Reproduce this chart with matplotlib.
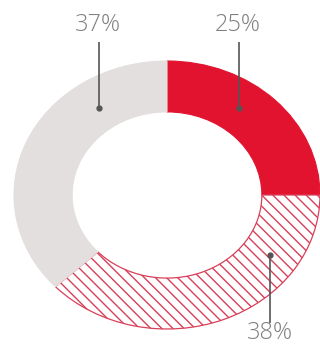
import matplotlib
matplotlib.use("Agg")
import matplotlib.pyplot as plt

labels = ["25%", "38%", "37%"]
values = [25, 38, 37]
colors = ["#E2132F", "white", "#E4DFDF"]
hatches = [None, "\\\\\\", None]
edgecolors = ["#E2132F", "#D8405A", "#E4DFDF"]

# annotation anchors (dot, line end, text) in axes data units
dots = [(0.471, 0.649), (0.673, -0.448), (-0.444, 0.649)]
ends = [(0.471, 1.142), (0.673, -0.955), (-0.444, 1.142)]
texts = [(0.464, 1.272), (0.673, -1.03), (-0.451, 1.272)]

fig = plt.figure(figsize=(3.20, 3.49), dpi=100)
ax = fig.add_axes([14/320, 20/349, 306/320, 268/349])

wedges, _ = ax.pie(values, startangle=90, counterclock=False, radius=1.0,
                   colors=colors, wedgeprops=dict(width=0.38, linewidth=0.8))
for w, h, ec in zip(wedges, hatches, edgecolors):
    w.set_edgecolor(ec)
    if h:
        w.set_hatch(h)
        w.set_linewidth(0.9)
ax.set_aspect("auto")
ax.set_xlim(-1, 1)
ax.set_ylim(-1, 1)
ax.axis("off")

for lab, d, e, t in zip(labels, dots, ends, texts):
    ax.plot([d[0], e[0]], [d[1], e[1]], color="#555555", lw=1.2, clip_on=False,
            solid_capstyle="butt")
    ax.plot([d[0]], [d[1]], "o", color="#555555", ms=3.5, clip_on=False)
    ax.text(t[0], t[1], lab, ha="center", va="center", fontsize=17,
            color="#808080", family=["Open Sans", "DejaVu Sans"],
            fontweight="light", clip_on=False)

fig.savefig("out.png", dpi=100)
